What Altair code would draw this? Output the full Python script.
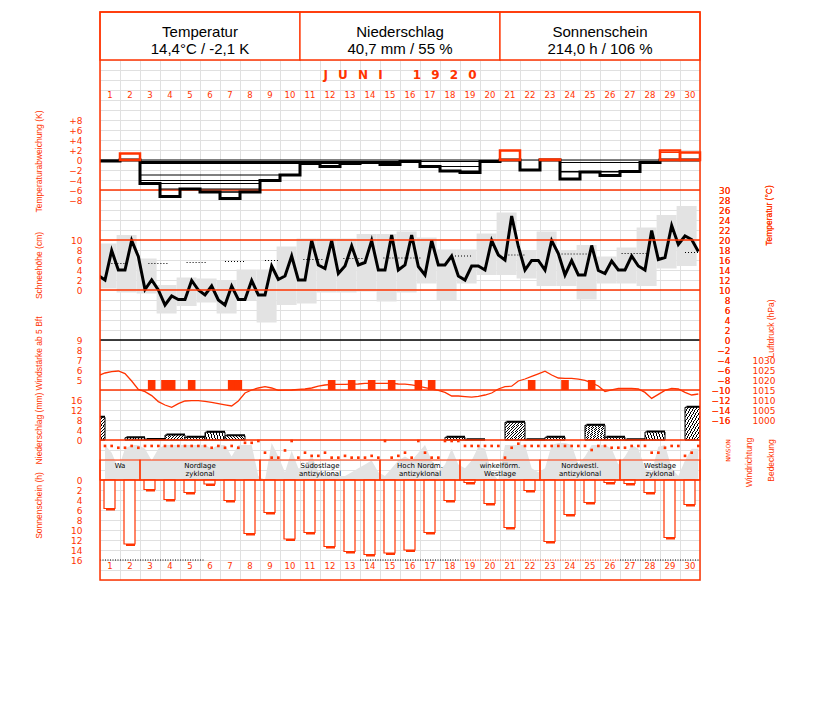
import altair as alt
import pandas as pd

# ---------------- data ----------------
days = list(range(1, 31))

header_titles = ["Temperatur", "Niederschlag", "Sonnenschein"]
header_values = ["14,4°C / -2,1 K", "40,7 mm / 55 %", "214,0 h / 106 %"]
header_start = [0, 10, 20]
header_end = [10, 20, 30]
month_word = "JUNI"
year_word = "1920"

temp_anomaly = [-0.2, 1.3, -4.7, -7.3, -5.8, -6.4, -7.7, -6.4, -4.1, -3.0,
                -0.7, -1.3, -0.7, -0.5, -0.9, -0.3, -1.3, -2.2, -2.5, -0.3,
                1.9, -2.0, 0.1, -3.8, -2.4, -3.1, -2.3, -0.5, 1.9, 1.5]

# evening reading of the previous day (31 May), drawn at the left edge
temp_prev = 12.9
pressure_prev = 1022.2
# three readings per day (morning, afternoon, evening)
temp_obs = [12.0, 17.9, 14.0, 14.0, 19.9, 16.7, 10.1, 12.0, 10.0, 7.0, 8.8, 8.1, 8.1, 11.9, 10.0,
            9.0, 10.8, 8.0, 7.0, 10.8, 8.1, 8.1, 11.9, 9.0, 9.0, 14.8, 12.1, 12.8, 16.8, 12.0,
            12.0, 19.9, 15.0, 14.3, 19.9, 13.3, 14.8, 18.8, 15.0, 15.5, 19.9, 14.0, 14.0, 21.0, 14.0,
            15.0, 21.0, 14.7, 13.0, 19.9, 15.0, 15.0, 16.8, 12.8, 12.0, 14.8, 14.8, 14.0, 19.9, 17.0,
            16.0, 24.8, 18.7, 14.0, 15.9, 15.9, 14.0, 19.9, 17.3, 13.0, 15.9, 13.0, 13.0, 18.9, 13.9,
            13.3, 15.8, 14.0, 14.0, 16.8, 14.8, 14.0, 21.9, 16.1, 16.5, 22.9, 19.1, 20.8, 20.1, 17.7]
temp_max = [19.3, 21.0, 16.3, 11.0, 12.5, 12.3, 12.0, 14.1, 14.1, 18.7, 20.3, 20.3, 20.3, 21.2, 21.2,
            21.7, 20.5, 18.1, 18.1, 21.3, 25.5, 18.0, 21.7, 18.0, 19.0, 16.7, 18.5, 22.5, 25.0, 26.8]
temp_min = [10.3, 9.5, 9.3, 5.3, 6.8, 7.5, 5.3, 8.0, 3.5, 7.0, 7.3, 9.5, 9.5, 9.7, 7.7,
            9.5, 11.3, 8.0, 11.3, 13.0, 13.0, 12.3, 10.8, 10.8, 8.1, 11.3, 11.3, 10.8, 14.3, 14.8]
normal_start = [0.42, 2.42, 4.33, 6.25, 8.25, 10.17, 12.17, 14.17, 17.75, 20.42, 23.08, 26.08, 29.25]
normal_end = [1.25, 3.42, 5.33, 7.25, 9.0, 11.17, 13.17, 16.08, 18.58, 21.25, 24.42, 27.33, 30.0]
normal_temp = [15.3, 15.3, 15.5, 15.7, 15.9, 16.1, 16.3, 16.4, 16.8, 17.0, 17.2, 17.3, 17.5]
temp_ref_red = [30, -10]
temp_ref_black = [0]
snow_ref = [0, 10]

wind_day = [3, 4, 4, 5, 7, 7, 12, 13, 14, 15, 16, 17, 22, 24, 25]
wind_obs = [1, 0, 1, 1, 1, 2, 1, 1, 1, 1, 2, 1, 1, 0, 1]
wind_force = [5, 5, 5, 5, 5, 5, 5, 5, 5, 5, 5, 5, 5, 5, 5]

pressure = [1023.5, 1024.2, 1024.5, 1023.2, 1019.5, 1015.3, 1014.2, 1012.2, 1009.2, 1007.5,
            1006.3, 1008.2, 1009.5, 1009.7, 1009.7, 1009.3, 1008.8, 1008.2, 1007.6, 1007.0,
            1009.5, 1013.5, 1015.0, 1016.0, 1016.7, 1016.0, 1014.8, 1014.9, 1015.0, 1015.3,
            1015.5, 1016.0, 1016.9, 1017.5, 1017.8, 1017.8, 1017.8, 1017.9, 1018.0, 1018.3,
            1018.3, 1018.3, 1018.3, 1018.3, 1018.0, 1017.9, 1017.6, 1016.9, 1016.2, 1015.5,
            1014.8, 1013.8, 1012.0, 1012.0, 1011.7, 1011.4, 1011.8, 1012.5, 1013.5, 1015.5,
            1016.7, 1016.9, 1019.5, 1020.5, 1021.8, 1023.1, 1024.4, 1022.5, 1021.0, 1020.8,
            1020.8, 1020.4, 1019.8, 1018.6, 1017.0, 1014.2, 1015.1, 1015.8, 1015.8, 1015.8,
            1015.5, 1013.8, 1010.8, 1012.8, 1014.8, 1015.8, 1015.5, 1013.8, 1012.5, 1013.0]

precip_day = list(range(0, 31))
precip = [9.1, 0, 0.9, 0.2, 2.0, 1.1, 3.1, 1.7, 0, 0, 0, 0, 0, 0, 0, 0, 0, 0,
          1.1, 0.1, 0, 7.1, 0.1, 1.1, 0, 5.9, 1.1, 0.1, 3.2, 0, 13.1]

# wind direction on a compass scale 0=N, 1=O, 2=S, 3=W, 4=N
wind_dir = [1.1, 1.1, 1.5, 1.5, 1.1, 1.5, 1.1, 1.1, 1.1, 1.1, 1.1, 1.1, 1.1, 1.1, 1.1,
            1.1, 1.5, 1.1, 1.5, 1.1, 1.5, 0.4, 0.4, 0.0, 2.6, 3.7, 3.7, 2.1, 0.0, 3.7,
            2.6, 3.3, 3.3, 2.6, 3.7, 3.7, 3.3, 3.7, 3.7, 3.7, 3.3, 3.7, 0.0, 3.7, 3.3,
            2.6, 3.7, 0.0, 2.6, 3.7, 3.7, 0.0, 0.0, 0.0, 1.1, 1.1, 1.1, 1.1, 1.1, 1.1,
            3.7, 1.5, 0.6, 1.1, 1.1, 1.1, 1.1, 1.1, 1.1, 1.1, 1.1, 1.1, 1.1, 2.0, 1.1,
            1.1, 1.5, 1.5, 1.5, 1.1, 1.1, 1.1, 2.6, 2.6, 1.5, 1.1, 1.1, 3.3, 2.6, 1.1]
# cloud cover (tenths)
cloud = [9, 7, 3, 8, 9, 9, 8, 5, 8, 9, 9, 9, 9, 9, 9,
         9, 8, 9, 9, 6, 9, 9, 9, 1, 0, 9.5, 6, 2, 7.5, 3,
         3, 6.5, 2, 1, 2, 1, 1, 2, 3, 4, 5, 2, 1, 3, 5,
         6, 5, 7, 9, 5, 2, 4, 8, 4, 3, 5, 8.5, 8, 2, 0,
         9, 9, 9, 9, 3, 2, 3, 9, 9.5, 9.5, 9, 4, 6, 9, 9,
         9, 8, 4, 6, 9, 8, 3, 2, 8.5, 9, 3, 1, 5, 8, 8]

sunshine = [5.7, 12.8, 1.9, 3.9, 2.5, 0.8, 4.1, 10.7, 6.5, 11.8, 10.5, 13.3, 14.3, 14.9, 14.6,
            14.0, 10.5, 4.1, 0.5, 4.7, 9.5, 2.1, 12.3, 6.9, 4.5, 0.5, 0.7, 2.5, 11.5, 4.9]
sun_mark_start = [0, 13, 18, 26]
sun_mark_end = [5.25, 18, 26, 30]
sun_mark_kind = ["k", "k", "r", "k"]

wt_start = [0, 2, 8, 14, 18, 22, 26]
wt_end = [2, 8, 14, 18, 22, 26, 30]
wt_line1 = ["Wa", "Nordlage", "Südostlage", "Hoch Nordm.", "winkelförm.", "Nordwestl.", "Westlage"]
wt_line2 = ["", "zyklonal", "antizyklonal", "antizyklonal", "Westlage", "antizyklonal", "zyklonal"]

# ---------------- style ----------------
RED = "#ff3300"
GRID = "#e0e0e0"
GREY = "#e3e3e3"
LBL_FONT = "DejaVu Sans"
TTL_FONT = "Liberation Sans"
W, H = 600, 568


def obs_time(d, j):
    return d - 1 + 0.25 + j / 3.0


obs_t = [obs_time(d, j) for d in days for j in range(3)]
prev_t = obs_time(0, 2)

xs = alt.Scale(domain=[0, 30], nice=False, zero=False)
xax = alt.Axis(values=list(range(31)), grid=True, gridColor=GRID, labels=False, ticks=False,
               domain=False, title=None)


def X(f):
    return alt.X(f, type="quantitative", scale=xs, axis=xax)


def yaxis(orient, values, title, tx, ty, pad, expr=None, labels=True, grid=False, **kw):
    d = dict(orient=orient, values=values, format="d", grid=grid, ticks=False, tickSize=0,
             domain=False, labelAlign="right", labelPadding=pad, labelColor=RED, labelFont=LBL_FONT,
             labelFontSize=9, labelOverlap=False, labelBound=False, labelFlush=False,
             title=title, titleX=tx, titleY=ty, titleAngle=-90, titleAlign="center",
             titleBaseline="middle", titleColor=RED, titleFont=TTL_FONT, titleFontSize=8.5,
             titleFontWeight="normal")
    if expr:
        d["labelExpr"] = expr
    if not labels:
        d["labels"] = False
    d.update(kw)
    return alt.Axis(**d)


# ---------- temperature (master scale, also carries the 10 px grid) ----------
t_scale = alt.Scale(domain=[-48, 65.6], nice=False, zero=False)
t_axis = yaxis("right", list(range(-48, 66, 2)), "Temperatur (°C)", 68, 203, 30,
               expr="datum.value >= -16 && datum.value <= 30 ? datum.label : ''",
               grid=True, gridColor=GRID)


def YT(f):
    return alt.Y(f, type="quantitative", scale=t_scale, axis=t_axis)


df_temp = pd.DataFrame({"t": [prev_t] + obs_t, "T": [temp_prev] + temp_obs})
df_block = pd.DataFrame({"t0": [d - 1.17 for d in days], "t1": [d - 0.17 for d in days],
                         "lo": temp_min, "hi": temp_max})
df_norm = pd.DataFrame({"n0": normal_start, "n1": normal_end, "v": normal_temp})

temp_bg = alt.layer(
    alt.Chart(df_block).mark_rect(color=GREY, clip=True).encode(x=X("t0"), x2="t1", y=YT("lo"), y2="hi"),
)
temp_fg = alt.layer(
    alt.Chart(df_norm).mark_rule(color="black", strokeWidth=1, strokeDash=[1, 2]).encode(
        x=X("n0"), x2="n1", y=YT("v")),
    alt.Chart(pd.DataFrame({"v": temp_ref_red})).mark_rule(color=RED, strokeWidth=1.3).encode(y=YT("v")),
    alt.Chart(pd.DataFrame({"v": temp_ref_black})).mark_rule(color="black", strokeWidth=1.3).encode(y=YT("v")),
    alt.Chart(df_temp).mark_line(color="black", strokeWidth=3, clip=True).encode(x=X("t"), y=YT("T")),
)

# ---------- anomaly ----------
a_scale = alt.Scale(domain=[-8, 8], range=[188, 108], nice=False, zero=False)
a_axis = yaxis("left", list(range(-8, 9, 2)), "Temperaturabweichung (K)", -62, 149, 18,
               expr="datum.value > 0 ? '+' + datum.label : datum.label")


def YA(f):
    return alt.Y(f, type="quantitative", scale=a_scale, axis=a_axis)


n = len(temp_anomaly)
neg_rows, pos_rows, zero_rows, box_rows = [], [], [], []
for i, v in enumerate(temp_anomaly):
    below = v < 0
    j = i
    while j > 0 and ((temp_anomaly[j - 1] <= v) if below else (temp_anomaly[j - 1] >= v)):
        j -= 1
    k = i
    while k < n - 1 and ((temp_anomaly[k + 1] <= v) if below else (temp_anomaly[k + 1] >= v)):
        k += 1
    (neg_rows if below else pos_rows).append({"a0": j, "a1": k + 1, "v": v})
    if below:
        zero_rows.append({"a0": i, "a1": i + 1, "v": 0.0})
    else:
        box_rows.append({"a0": i, "a1": i + 1, "v": v, "z": 0.0})
step_vals = [min(v, 0) for v in temp_anomaly]
df_step = pd.DataFrame({"t": list(range(31)), "v": step_vals + [step_vals[-1]]})

anom = alt.layer(
    alt.Chart(pd.DataFrame(zero_rows)).mark_rule(color="black", strokeWidth=1).encode(x=X("a0"), x2="a1", y=YA("v")),
    alt.Chart(pd.DataFrame(neg_rows)).mark_rule(color="black", strokeWidth=1).encode(x=X("a0"), x2="a1", y=YA("v")),
    alt.Chart(pd.DataFrame(pos_rows)).mark_rule(color=RED, strokeWidth=1).encode(x=X("a0"), x2="a1", y=YA("v")),
    alt.Chart(df_step).mark_line(color="black", strokeWidth=3, interpolate="step-after").encode(x=X("t"), y=YA("v")),
    alt.Chart(pd.DataFrame(box_rows)).mark_rect(fill="white", fillOpacity=0, stroke=RED, strokeWidth=2.5).encode(
        x=X("a0"), x2="a1", y=YA("v"), y2="z"),
)

# ---------- snow height ----------
s_scale = alt.Scale(domain=[0, 10], range=[278, 228], nice=False, zero=False)
s_axis = yaxis("left", [0, 2, 4, 6, 8, 10], "Schneehöhe (cm)", -62, 253, 18)
snow = alt.Chart(pd.DataFrame({"v": snow_ref})).mark_rule(color=RED, strokeWidth=1.3).encode(
    y=alt.Y("v", type="quantitative", scale=s_scale, axis=s_axis))

# ---------- wind force ----------
w_scale = alt.Scale(domain=[4, 9], range=[378, 328], nice=False, zero=False)
w_axis = yaxis("left", [5, 6, 7, 8, 9], "Windstärke ab 5 Bft", -62, 341, 18)
df_wind = pd.DataFrame({"t0": [obs_time(d, j) - 0.19 for d, j in zip(wind_day, wind_obs)],
                        "t1": [obs_time(d, j) + 0.19 for d, j in zip(wind_day, wind_obs)],
                        "f": wind_force, "b": [4] * len(wind_force)})
wind = alt.Chart(df_wind).mark_rect(color=RED).encode(
    x=X("t0"), x2="t1", y=alt.Y("f", type="quantitative", scale=w_scale, axis=w_axis), y2="b")

# ---------- pressure ----------
p_scale = alt.Scale(domain=[1000, 1030], range=[408, 348], nice=False, zero=False)
p_axis = yaxis("right", list(range(1000, 1031, 5)), "Luftdruck (hPa)", 70, 316, 75)
press = alt.Chart(pd.DataFrame({"t": [prev_t] + obs_t, "p": [pressure_prev] + pressure})).mark_line(
    color=RED, strokeWidth=1.3, clip=True).encode(
    x=X("t"), y=alt.Y("p", type="quantitative", scale=p_scale, axis=p_axis))

# ---------- precipitation ----------
r_scale = alt.Scale(domain=[0, 16], range=[428, 388], nice=False, zero=False)
r_axis = yaxis("left", [0, 4, 8, 12, 16], "Niederschlag (mm)", -62, 416, 18)
df_prec = pd.DataFrame({"t0": [d - 1 + 0.25 for d in precip_day], "t1": [d + 0.25 for d in precip_day],
                        "p": precip, "z": [0.0] * len(precip)})
df_prec = df_prec[df_prec["p"] > 0]
stops = []
P = 14
for k in range(P):
    a, b, c = k / P, (k + 0.35) / P, (k + 1) / P
    stops += [alt.GradientStop(color="black", offset=a), alt.GradientStop(color="black", offset=b),
              alt.GradientStop(color="white", offset=b), alt.GradientStop(color="white", offset=c)]
hatch = alt.LinearGradient(gradient="linear", stops=stops, x1=0, y1=0, x2=1, y2=1)
RY = alt.Y("p", type="quantitative", scale=r_scale, axis=r_axis)
prec = alt.layer(
    alt.Chart(df_prec).mark_rect(color="black", xOffset=1.5, yOffset=-1.5, clip=True).encode(
        x=X("t0"), x2="t1", y=RY, y2="z"),
    alt.Chart(df_prec).mark_rect(fill=hatch, stroke="black", strokeWidth=1, clip=True).encode(
        x=X("t0"), x2="t1", y=RY, y2="z"),
    alt.Chart(pd.DataFrame({"p": [0.0]})).mark_rule(color=RED, strokeWidth=1.3).encode(y=RY),
)

# ---------- cloud cover ----------
c_scale = alt.Scale(domain=[0, 10], range=[468, 429], nice=False, zero=False)
c_axis = yaxis("right", [0], "Bedeckung", 70, 448, 5, labels=False)
clouds = alt.Chart(pd.DataFrame({"t": obs_t, "c": cloud})).mark_area(color=GREY).encode(
    x=X("t"), y=alt.Y("c", type="quantitative", scale=c_scale, axis=c_axis))

# ---------- wind direction ----------
d_scale = alt.Scale(domain=[0, 4], range=[429, 447], nice=False, zero=False)
d_axis = yaxis("right", [0, 1, 2, 3, 4], "Windrichtung", 48, 450, 27,
               expr="['N','O','S','W','N'][datum.value]", labelAngle=90, labelAlign="center",
               labelBaseline="middle", labelFontSize=6)
wdir = alt.Chart(pd.DataFrame({"t": obs_t, "d": wind_dir})).mark_square(color=RED, size=7, opacity=1).encode(
    x=X("t"), y=alt.Y("d", type="quantitative", scale=d_scale, axis=d_axis))

# ---------- weather types band ----------
df_wt = pd.DataFrame({"w0": wt_start, "w1": wt_end, "l1": wt_line1, "l2": wt_line2,
                      "wc": [(a + b) / 2 for a, b in zip(wt_start, wt_end)]})
band = alt.layer(
    alt.Chart(df_wt).mark_rect(fill="white", fillOpacity=0, stroke=RED, strokeWidth=1.2).encode(
        x=X("w0"), x2="w1", y=alt.value(448), y2=alt.value(468)),
    alt.Chart(df_wt).mark_text(font=LBL_FONT, fontSize=7, color="black", baseline="middle").encode(
        x=X("wc"), y=alt.value(453.5), text="l1"),
    alt.Chart(df_wt).mark_text(font=LBL_FONT, fontSize=7, color="black", baseline="middle").encode(
        x=X("wc"), y=alt.value(462), text="l2"),
)

# ---------- sunshine ----------
u_scale = alt.Scale(domain=[0, 16], range=[468, 548], nice=False, zero=False)
u_axis = yaxis("left", list(range(0, 17, 2)), "Sonnenschein (h)", -62, 493, 18)
UY = alt.Y("h", type="quantitative", scale=u_scale, axis=u_axis)
df_sun = pd.DataFrame({"s0": [d - 0.8 for d in days], "s1": [d - 0.25 for d in days],
                       "h": sunshine, "z": [0.0] * 30})
df_mark = pd.DataFrame({"m0": sun_mark_start, "m1": sun_mark_end, "kind": sun_mark_kind,
                        "h": [16.0] * len(sun_mark_start)})
sun = alt.layer(
    alt.Chart(df_sun).mark_rect(color=RED, xOffset=2, yOffset=2).encode(x=X("s0"), x2="s1", y=UY, y2="z"),
    alt.Chart(df_sun).mark_rect(fill="white", stroke=RED, strokeWidth=1.2).encode(x=X("s0"), x2="s1", y=UY, y2="z"),
    alt.Chart(pd.DataFrame({"h": [0.0]})).mark_rule(color=RED, strokeWidth=1.3).encode(y=UY),
    alt.Chart(df_mark).transform_filter("datum.kind == 'k'").mark_rule(
        color="black", strokeDash=[1, 1.5], strokeWidth=1.2).encode(x=X("m0"), x2="m1", y=UY),
    alt.Chart(df_mark).transform_filter("datum.kind == 'r'").mark_rule(
        color=RED, strokeDash=[1, 1.5], strokeWidth=1.2).encode(x=X("m0"), x2="m1", y=UY),
)

# ---------- header, month, day numbers, frame ----------
df_head = pd.DataFrame({"h0": header_start, "h1": header_end, "title": header_titles,
                        "value": header_values,
                        "hc": [(a + b) / 2 for a, b in zip(header_start, header_end)]})
head = alt.layer(
    alt.Chart(df_head).mark_rect(fill="white", stroke=RED, strokeWidth=1.3).encode(
        x=X("h0"), x2="h1", y=alt.value(0), y2=alt.value(48)),
    alt.Chart(df_head).mark_text(font="Liberation Sans", fontSize=15, color="black", baseline="middle").encode(
        x=X("hc"), y=alt.value(20), text="title"),
    alt.Chart(df_head).mark_text(font="Liberation Sans", fontSize=15, color="black", baseline="middle").encode(
        x=X("hc"), y=alt.value(37), text="value"),
)
gap = "\u2002\u00a0"
month_text = gap.join(list(month_word)) + "\u2003\u2003\u2002" + gap.join(list(year_word))
month = alt.Chart(pd.DataFrame({"m": [15.0], "txt": [month_text]})).mark_text(
    font=LBL_FONT, fontSize=12, fontWeight="bold", color=RED, baseline="middle").encode(
    x=X("m"), y=alt.value(63), text="txt")
df_days = pd.DataFrame({"dc": [d - 0.5 for d in days], "lab": [str(d) for d in days]})
day_top = alt.Chart(df_days).mark_text(font=LBL_FONT, fontSize=8.5, color=RED, baseline="middle").encode(
    x=X("dc"), y=alt.value(83), text="lab")
day_bot = alt.Chart(df_days).mark_text(font=LBL_FONT, fontSize=8.5, color=RED, baseline="middle").encode(
    x=X("dc"), y=alt.value(554), text="lab")
frame = alt.Chart(pd.DataFrame({"a": [0]})).mark_rect(fill="white", fillOpacity=0, stroke=RED, strokeWidth=1.5).encode(
    x=alt.value(0), x2=alt.value(W), y=alt.value(0), y2=alt.value(H))

chart = alt.layer(
    temp_bg, clouds, temp_fg, anom, snow, wind, press, prec, wdir, band, sun,
    head, month, day_top, day_bot, frame
).resolve_scale(y="independent").properties(
    width=W, height=H,
    autosize=alt.AutoSizeParams(type="none"),
    padding={"left": 92, "top": 4, "right": 119, "bottom": 114},
    background="white",
).configure_view(strokeWidth=0)

chart.save("out.html", embed_options={"renderer": "svg", "actions": False})
